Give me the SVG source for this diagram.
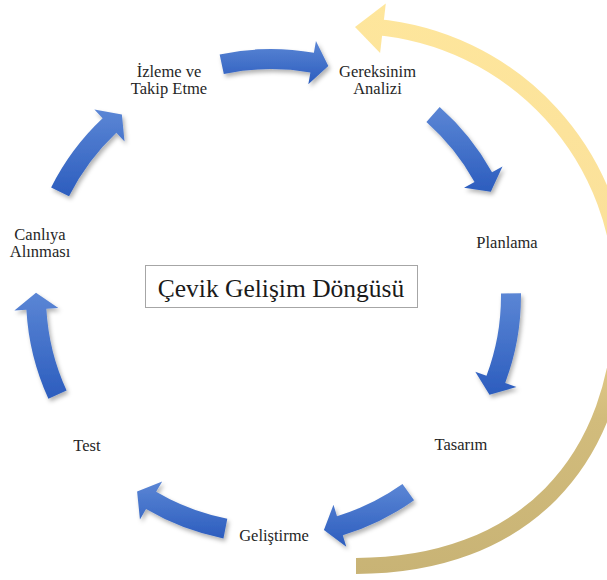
<svg xmlns="http://www.w3.org/2000/svg" width="607" height="580" viewBox="0 0 607 580">
  <defs>
    <linearGradient id="blue" x1="0" y1="0" x2="0" y2="1">
      <stop offset="0" stop-color="#5b86d5"/>
      <stop offset="1" stop-color="#2c5dbe"/>
    </linearGradient>
    <linearGradient id="gold" gradientUnits="userSpaceOnUse" x1="0" y1="0" x2="0" y2="580">
      <stop offset="0" stop-color="#fee69c"/>
      <stop offset="0.45" stop-color="#fae09a"/>
      <stop offset="0.72" stop-color="#d2bc7c"/>
      <stop offset="1" stop-color="#c8b375"/>
    </linearGradient>
    <filter id="shadow" x="-20%" y="-20%" width="140%" height="140%">
      <feDropShadow dx="2" dy="3" stdDeviation="2" flood-color="#000" flood-opacity="0.3"/>
    </filter>
    <style>
      .lbl { font-family: "Liberation Serif", "Times New Roman", serif; font-size: 16.5px; fill: #262626; text-anchor: middle; }
      .title { font-family: "Liberation Serif", "Times New Roman", serif; font-size: 25.5px; fill: #1a1a1a; text-anchor: middle; }
      .arrow { fill: url(#blue); filter: url(#shadow); }
    </style>
  </defs>

  <rect width="607" height="580" fill="#fff"/>

  <!-- connectors: cycle arrows and the outer feedback arrow -->
  <g id="connectors">
    <g id="feedback">
      <!-- band: upper arc, then a wider lower sweep back to the tail -->
      <path fill="none" stroke="url(#gold)" stroke-width="16" d="M375.5,27 A270,270 0 0 1 622,296 C622,463.4 520.9,566 356,566"/>
      <path fill="url(#gold)" d="M385.8,3.4 L355,27 L380.1,53.1 Z"/>
    </g>

    <g transform="translate(271,296)">
      <path class="arrow" d="M-51.35,-241.59 A247,247 0 0 1 42.88,-243.25 L44.96,-255.06 L57.33,-229.96 L37.32,-211.73 L39.41,-223.55 A227,227 0 0 0 -47.19,-222.03 Z"/>
    </g>
    <g transform="translate(276,292)">
      <path class="arrow" d="M163.66,-185 A247,247 0 0 1 216.03,-119.75 L226.52,-125.56 L214.79,-100.16 L188.04,-104.23 L198.53,-110.05 A227,227 0 0 0 150.41,-170.02 Z"/>
    </g>
    <g transform="translate(274,296)">
      <path class="arrow" d="M246.98,-2.8 A247,247 0 0 1 231.22,86.89 L242.45,91.12 L215.48,98.66 L201.26,75.64 L212.49,79.86 A227,227 0 0 0 226.99,-2.57 Z"/>
    </g>
    <g transform="translate(271,299)">
      <path class="arrow" d="M143.09,201.33 A247,247 0 0 1 71.8,236.33 L75.29,247.81 L52.92,231.03 L62.5,205.71 L65.99,217.19 A227,227 0 0 0 131.5,185.03 Z"/>
    </g>
    <g transform="translate(271,296)">
      <path class="arrow" d="M-47.55,242.38 A247,247 0 0 1 -124.98,213.04 L-131.05,223.39 L-133.91,195.55 L-108.79,185.44 L-114.86,195.79 A227,227 0 0 0 -43.7,222.76 Z"/>
    </g>
    <g transform="translate(273,296)">
      <path class="arrow" d="M-224.6,102.83 A247,247 0 0 1 -246.6,13.78 L-258.59,14.45 L-236.98,-3.32 L-214.66,12 L-226.64,12.67 A227,227 0 0 0 -206.41,94.5 Z"/>
    </g>
    <g transform="translate(272,298)">
      <path class="arrow" d="M-220.87,-110.61 A247,247 0 0 1 -169.39,-179.77 L-177.62,-188.5 L-150.12,-183.39 L-147.45,-156.48 L-155.68,-165.21 A227,227 0 0 0 -202.98,-101.65 Z"/>
    </g>
  </g>

  <!-- cycle stages -->
  <g id="node-gereksinim">
    <text class="lbl" x="377.5" y="76.5">Gereksinim</text>
    <text class="lbl" x="377.5" y="94">Analizi</text>
  </g>
  <g id="node-planlama">
    <text class="lbl" x="507" y="248">Planlama</text>
  </g>
  <g id="node-tasarim">
    <text class="lbl" x="461" y="450">Tasarım</text>
  </g>
  <g id="node-gelistirme">
    <text class="lbl" x="274" y="540.5">Geliştirme</text>
  </g>
  <g id="node-test">
    <text class="lbl" x="87" y="451">Test</text>
  </g>
  <g id="node-canliya">
    <text class="lbl" x="40" y="239.5">Canlıya</text>
    <text class="lbl" x="40" y="257">Alınması</text>
  </g>
  <g id="node-izleme">
    <text class="lbl" x="169" y="76.5">İzleme ve</text>
    <text class="lbl" x="169" y="94">Takip Etme</text>
  </g>

  <!-- centre title -->
  <g id="node-title">
    <rect x="145.5" y="265.5" width="272" height="42" fill="#fff" stroke="#a6a6a6" stroke-width="1"/>
    <text class="title" x="281" y="296.5">Çevik Gelişim Döngüsü</text>
  </g>
</svg>
